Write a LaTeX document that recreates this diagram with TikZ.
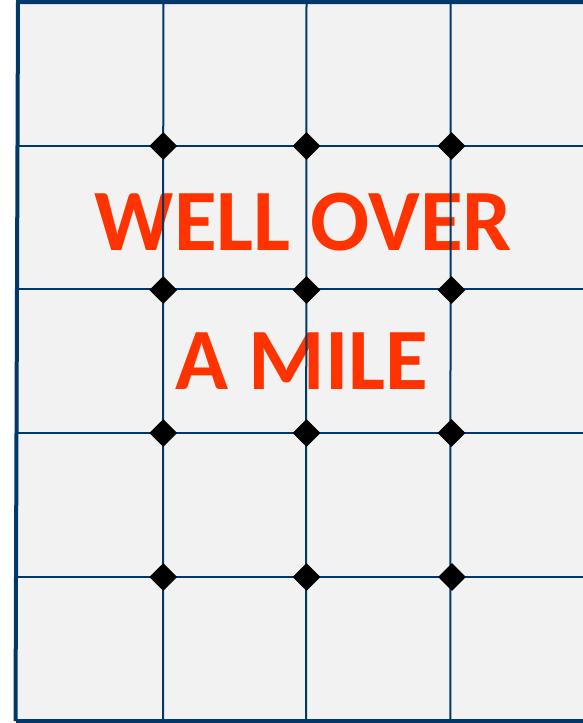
\documentclass[tikz,border=0pt]{standalone}
\usepackage{fontspec}
\setmainfont{Carlito}
\usepackage{tikz}
\usetikzlibrary{shapes.geometric}
\definecolor{gridBlue}{RGB}{0,56,106}
\definecolor{mileOrange}{RGB}{255,51,0}
\definecolor{paperGray}{RGB}{242,242,242}
\tikzset{
  corner/.style={diamond, fill=black, inner sep=0pt, minimum width=28pt, minimum height=28pt},
  street/.style={gridBlue, line width=2pt},
  frameline/.style={gridBlue, line width=4pt}
}

\begin{document}
\begin{tikzpicture}[x=1pt,y=-1pt]
\useasboundingbox (0,0) rectangle (583,723);
\fill[white] (0,0) rectangle (583,723);
\fill[paperGray] (17,2) rectangle (583,721);
% title text (under the streets)
\node[text=mileOrange, font=\fontsize{87.5}{87.5}\selectfont\bfseries] (line1) at (303.5,222.5) {WELL OVER};
\node[text=mileOrange, font=\fontsize{87.5}{87.5}\selectfont\bfseries] (line2) at (302,361.5) {A MILE};
% frame
\coordinate (tl) at (18,2);
\coordinate (tr) at (583,2);
\coordinate (bl) at (15.5,721);
\coordinate (br) at (583,721);
% streets
\draw[street] (17.5,145.5) -- (583,145.5);
\draw[street] (17,289) -- (583,289);
\draw[street] (16.5,433) -- (583,433);
\draw[street] (16,577) -- (583,577);
\draw[street] (163.3,2) -- (163,721);
\draw[street] (306.5,2) -- (306,721);
\draw[street] (450.7,2) -- (450.3,721);
\draw[frameline] (tr) -- (tl) -- (bl);
\draw[frameline] (bl) -- (br);
% corners
\node[corner] (c11) at (163.3,146) {};
\node[corner] (c12) at (306.5,146) {};
\node[corner] (c13) at (451.5,146) {};
\node[corner] (c21) at (163.3,290) {};
\node[corner] (c22) at (306.5,290) {};
\node[corner] (c23) at (451.5,290) {};
\node[corner] (c31) at (163.3,433) {};
\node[corner] (c32) at (306.5,433) {};
\node[corner] (c33) at (451.5,433) {};
\node[corner] (c41) at (163.3,577) {};
\node[corner] (c42) at (306.5,577) {};
\node[corner] (c43) at (452,577) {};
\end{tikzpicture}
\end{document}
